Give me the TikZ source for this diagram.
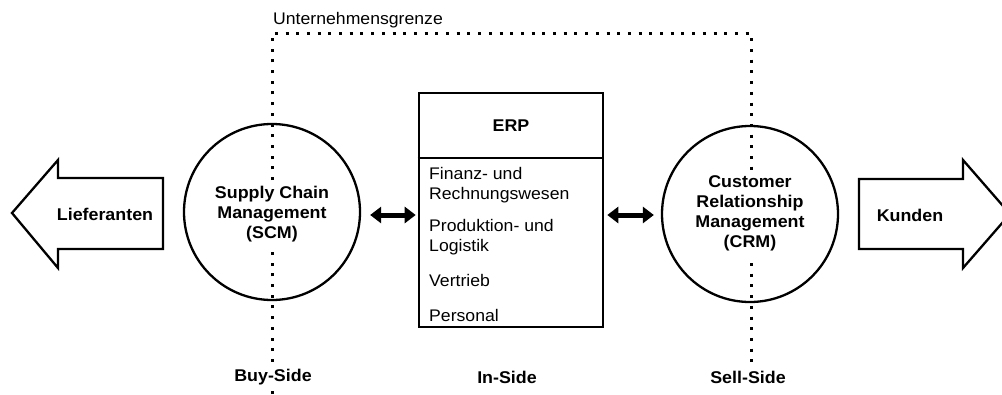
\documentclass[tikz,border=0pt]{standalone}
\usepackage{fontspec}
\setmainfont[FakeStretch=1.05]{Liberation Sans}
\usetikzlibrary{arrows.meta}
\tikzset{
  outline/.style={draw=black, line width=2.3pt, line join=miter},
  boundary/.style={black, line width=3pt, dash pattern=on 3pt off 7.7pt},
  bold16/.style={font=\fontsize{17}{20}\selectfont\bfseries},
  reg16/.style={font=\fontsize{16.8}{19.5}\selectfont},
  dblarrow/.style={line width=5pt, {Triangle[length=11pt,width=16pt]}-{Triangle[length=11pt,width=16pt]}},
  bigcircle/.style={circle, outline, fill=white, minimum size=176pt, inner sep=0pt},
  cover/.style={fill=white, inner sep=5pt, align=center}
}
\begin{document}
\begin{tikzpicture}[x=1pt,y=-1pt]
\useasboundingbox (0,0) rectangle (1002,394);
\clip (0,0) rectangle (1002,394);
% flow arrows
\draw[outline] (12,213) -- (58,160) -- (58,178) -- (163,178) -- (163,249) -- (58,249) -- (58,268) -- cycle;
\node[bold16] (lief) at (105,214) {Lieferanten};
\draw[outline] (859,179) -- (963,179) -- (963,160) -- (1010,214) -- (963,268) -- (963,249) -- (859,249) -- cycle;
\node[bold16] (kunden) at (910,215) {Kunden};
% circles
\node[bigcircle] (scm) at (272,212) {};
\node[bigcircle] (crm) at (750,214) {};
% ERP box
\node[draw, line width=2.6pt, minimum width=184pt, minimum height=234pt, inner sep=0pt] (erp) at (511,210) {};
\coordinate (hdr) at (511,158);
\draw[line width=2.3pt] (erp.west |- hdr) -- (erp.east |- hdr);
\node[bold16] (erptitle) at (511,126) {ERP};
\node[reg16, anchor=base west, align=left, inner sep=0pt] (i1) at (429,199) {Finanz- und\\Rechnungswesen};
\node[reg16, anchor=base west, align=left, inner sep=0pt] (i2) at (429,251) {Produktion- und\\Logistik};
\node[reg16, anchor=base west, inner sep=0pt] (i3) at (429,286) {Vertrieb};
\node[reg16, anchor=base west, inner sep=0pt] (i4) at (429,321) {Personal};
% company boundary
\coordinate (bl) at (272,394);
\coordinate (tl) at (272,33);
\coordinate (tr) at (751,33);
\coordinate (br) at (751,362);
\draw[boundary] (bl) -- (tl) -- (tr) -- (br);
\node[reg16, anchor=base west, inner sep=0pt] (ugrenze) at (273,24) {Unternehmensgrenze};
% circle texts
\node[bold16, cover] (scmtext) at (272,214) {Supply Chain\\Management\\(SCM)};
\node[bold16, cover] (crmtext) at (750,213) {Customer\\Relationship\\Management\\(CRM)};
% side labels
\node[bold16, fill=white, inner sep=2pt] (buy) at (273,377) {Buy-Side};
\node[bold16] (in) at (507,377) {In-Side};
\node[bold16] (sell) at (748,377) {Sell-Side};
% connectors
\draw[dblarrow, shorten <=9pt, shorten >=2pt] (scm.east |- 0,215) -- (erp.west |- 0,215);
\draw[dblarrow, shorten <=3pt, shorten >=7pt] (erp.east |- 0,215) -- (crm.west |- 0,215);
\end{tikzpicture}
\end{document}
